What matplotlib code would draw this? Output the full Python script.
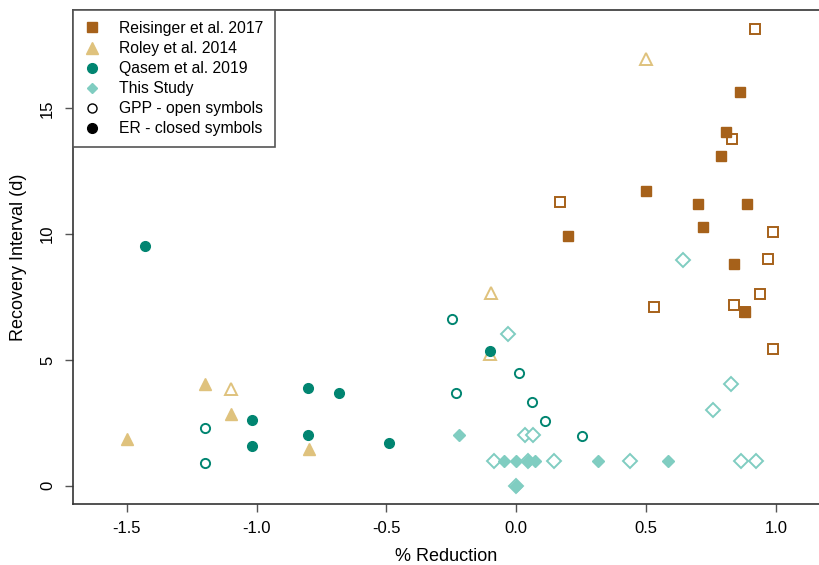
import matplotlib
matplotlib.use("Agg")
import matplotlib.pyplot as plt
from matplotlib.lines import Line2D

plt.rcParams['font.family'] = ['Liberation Sans', 'DejaVu Sans']

# colours (BrBG)
C_REIS = '#A6611A'
C_ROLEY = '#DFC27D'
C_QASEM = '#018571'
C_STUDY = '#80CDC1'

# Reisinger et al. 2017
reis_er_x = [0.861, 0.808, 0.790, 0.500, 0.699, 0.889, 0.719, 0.200, 0.839, 0.880]
reis_er_y = [15.67, 14.06, 13.10, 11.71, 11.20, 11.20, 10.29, 9.91, 8.80, 6.90]
reis_gpp_x = [0.921, 0.830, 0.170, 0.989, 0.970, 0.939, 0.529, 0.839, 0.989, 0.880]
reis_gpp_y = [18.17, 13.80, 11.28, 10.10, 9.00, 7.62, 7.10, 7.20, 5.42, 6.90]

# Roley et al. 2014
roley_er_x = [-1.198, -1.099, -1.498, -0.799]
roley_er_y = [4.05, 2.86, 1.87, 1.47]
roley_gpp_x = [0.501, -0.098, -1.097, -0.100]
roley_gpp_y = [16.95, 7.65, 3.85, 5.22]

# Qasem et al. 2019
qasem_er_x = [-1.428, -0.802, -0.681, -1.019, -0.802, -1.019, -0.491, -0.100]
qasem_er_y = [9.52, 3.90, 3.69, 2.63, 2.01, 1.59, 1.69, 5.36]
qasem_gpp_x = [-1.198, -1.198, -0.248, 0.009, -0.230, 0.062, 0.110, 0.252]
qasem_gpp_y = [2.30, 0.91, 6.63, 4.48, 3.69, 3.32, 2.59, 1.96]

# This Study
study_er_x = [-0.221, -0.048, 0.0, 0.047, 0.072, 0.315, 0.585, 0.0]
study_er_y = [2.02, 1.0, 1.0, 1.0, 1.0, 1.0, 1.0, 0.0]
study_gpp_x = [0.642, 0.829, 0.757, -0.030, 0.033, 0.064, -0.086, 0.144, 0.440, 0.865,
               0.924, 0.047, 0.0]
study_gpp_y = [8.98, 4.03, 3.00, 6.02, 2.02, 2.02, 1.0, 1.0, 1.0, 1.0, 1.0, 1.0, 0.0]

legend_labels = ["Reisinger et al. 2017", "Roley et al. 2014", "Qasem et al. 2019",
                 "This Study", "GPP - open symbols", "ER - closed symbols"]

fig = plt.figure(figsize=(8.19, 5.65), dpi=100)
ax = fig.add_axes([0.0891, 0.108, 0.9115, 0.8743])

mew = 1.4
# open symbols (GPP)
ax.plot(reis_gpp_x, reis_gpp_y, 's', ms=7, mfc='white', mec=C_REIS, mew=mew, ls='none')
ax.plot(roley_gpp_x, roley_gpp_y, '^', ms=9, mfc='white', mec=C_ROLEY, mew=mew, ls='none')
ax.plot(qasem_gpp_x, qasem_gpp_y, 'o', ms=6.6, mfc='white', mec=C_QASEM, mew=mew, ls='none')
ax.plot(study_gpp_x, study_gpp_y, 'D', ms=7, mfc='white', mec=C_STUDY, mew=mew, ls='none')
# closed symbols (ER)
ax.plot(reis_er_x, reis_er_y, 's', ms=7, color=C_REIS, ls='none')
ax.plot(roley_er_x, roley_er_y, '^', ms=8.5, color=C_ROLEY, ls='none')
ax.plot(qasem_er_x, qasem_er_y, 'o', ms=7, color=C_QASEM, ls='none')
ax.plot(study_er_x, study_er_y, 'D', ms=6.2, color=C_STUDY, ls='none')

ax.set_xlim(-1.707, 1.168)
ax.set_ylim(-0.727, 18.91)
ax.set_xticks([-1.5, -1.0, -0.5, 0.0, 0.5, 1.0])
ax.set_xticklabels(["-1.5", "-1.0", "-0.5", "0.0", "0.5", "1.0"])
ax.set_yticks([0, 5, 10, 15])
ax.tick_params(axis='both', length=6, width=1, color='#555555', labelsize=12)
ax.tick_params(axis='x', pad=6)
ax.tick_params(axis='y', pad=7)
for lab in ax.get_yticklabels():
    lab.set_rotation(90)
    lab.set_va('center')
ax.spines['right'].set_visible(False)
for s in ['left', 'top', 'bottom']:
    ax.spines[s].set_color('#333333')
    ax.spines[s].set_linewidth(1.2)

ax.set_xlabel("% Reduction", fontsize=13, labelpad=9)
ax.set_ylabel("Recovery Interval (d)", fontsize=13, labelpad=9)

handles = [
    Line2D([], [], marker='s', ls='none', color=C_REIS, ms=7),
    Line2D([], [], marker='^', ls='none', color=C_ROLEY, ms=8.5),
    Line2D([], [], marker='o', ls='none', color=C_QASEM, ms=7),
    Line2D([], [], marker='D', ls='none', color=C_STUDY, ms=5),
    Line2D([], [], marker='o', ls='none', mfc='white', mec='black', mew=1, ms=6.5),
    Line2D([], [], marker='o', ls='none', color='black', ms=7),
]
leg = ax.legend(handles, legend_labels, loc='upper left', bbox_to_anchor=(0, 1),
                borderaxespad=0, fancybox=False, framealpha=1, edgecolor='#555555',
                fontsize=11.3, handlelength=1.0, handletextpad=1.25, labelspacing=0.32,
                borderpad=0.7)
leg.get_frame().set_linewidth(1.2)

fig.savefig("out.png", dpi=100)
